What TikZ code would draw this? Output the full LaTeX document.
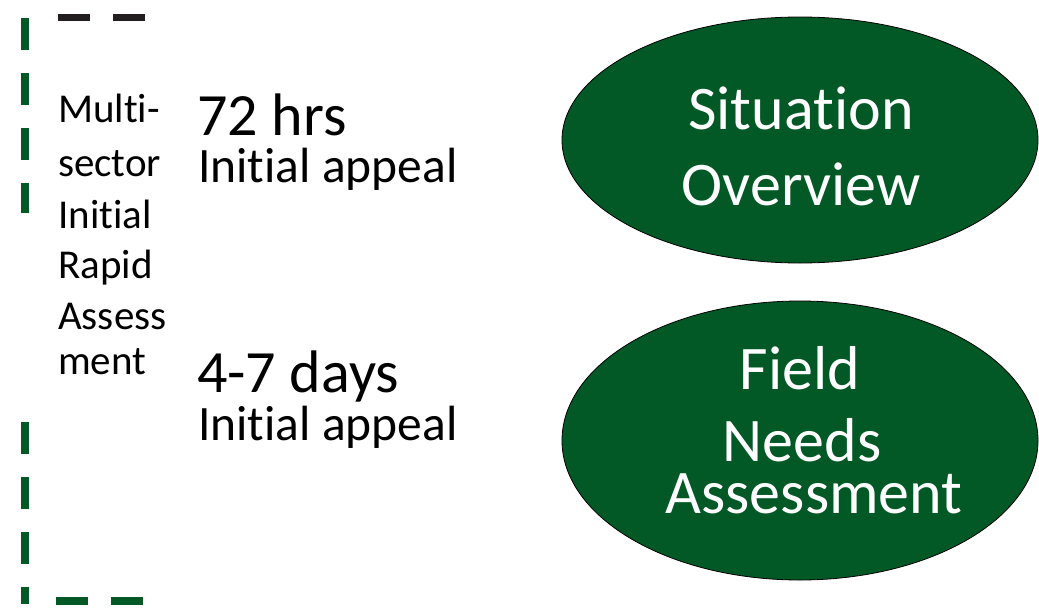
\documentclass[tikz,border=0pt]{standalone}
\usepackage{fontspec}
\setmainfont{Carlito}[Ligatures={NoCommon,NoRequired,NoContextual},RawFeature={-calt;-ccmp;-dlig}]
\usetikzlibrary{shapes.geometric}
\definecolor{dgreen}{RGB}{2,89,38}
\definecolor{dgray}{RGB}{35,31,32}
\tikzset{
  gline/.style={line width=8pt, draw=dgreen, dash pattern=on 32pt off 23pt},
  kline/.style={line width=7pt, draw=dgray, dash pattern=on 32pt off 23pt},
  oval/.style={ellipse, fill=dgreen, draw=black, line width=0.8pt, inner sep=0pt, outer sep=0pt},
  side/.style={anchor=base west, inner sep=0pt, font=\fontsize{41}{50}\selectfont},
  big/.style={anchor=base west, inner sep=0pt, font=\fontsize{60}{70}\selectfont},
  mid/.style={anchor=base west, inner sep=0pt, font=\fontsize{49.5}{58}\selectfont},
  intext/.style={anchor=base, inner sep=0pt, text=white, font=\fontsize{62}{74}\selectfont}
}
\newcommand{\tibreak}{t\kern0pt i}
\begin{document}
\begin{tikzpicture}[x=1pt,y=-1pt]
\useasboundingbox (0,0) rectangle (1039,608);
% bracket
\draw[kline] (58,17.7) -- (150,17.7);
\draw[gline] (24.7,18) -- (24.7,213);
\draw[gline] (24.7,422) -- (24.7,604);
\draw[gline] (56,601) -- (150,601);
% left column text
\node[side] (l1) at (58,122) {Mul\tibreak-};
\node[side] (l2) at (58,176) {sector};
\node[side] (l3) at (58,228) {Ini\tibreak al};
\node[side] (l4) at (58,278) {Rapid};
\node[side] (l5) at (58,329) {Assess};
\node[side] (l6) at (58,374) {ment};
% timing texts
\node[big] (t1) at (197,135) {72 hrs};
\node[mid] (a1) at (198,182) {Ini\tibreak al appeal};
\node[big] (t2) at (197,392) {4-7 days};
\node[mid] (a2) at (198,440) {Ini\tibreak al appeal};
% ellipses
\node[oval, minimum width=476pt, minimum height=246pt] (e1) at (800,140) {};
\node[oval, minimum width=476pt, minimum height=279pt] (e2) at (800,440.5) {};
\node[intext] (s1) at (801,129) {Situa\tibreak on};
\node[intext] (s2) at (801,205) {Overview};
\node[intext] (f1) at (800,389) {Field};
\node[intext] (f2) at (802,461) {Needs};
\node[intext] (f3) at (814,513) {Assessment};
\end{tikzpicture}
\end{document}
